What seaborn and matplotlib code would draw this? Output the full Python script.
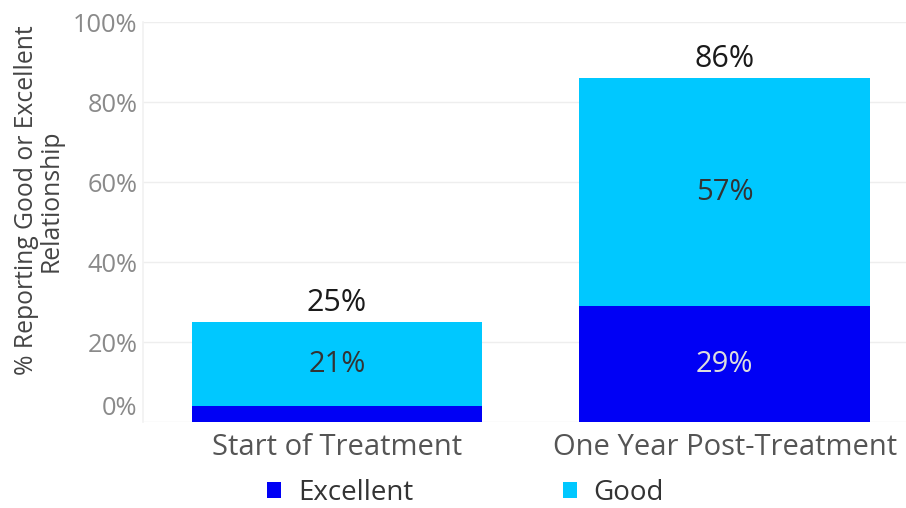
import matplotlib
matplotlib.use("Agg")
import matplotlib.pyplot as plt
import matplotlib.transforms as mtransforms
from matplotlib.patches import Patch
import seaborn as sns
import pandas as pd

categories = ["Start of Treatment", "One Year Post-Treatment"]
excellent = [4, 29]
good = [21, 57]
totals = [e + g for e, g in zip(excellent, good)]
yticks = [0, 20, 40, 60, 80, 100]
ytick_labels = ["0%", "20%", "40%", "60%", "80%", "100%"]

sns.set_theme(style="white")
plt.rcParams["font.family"] = ["Open Sans", "DejaVu Sans"]

c_exc = "#0000F5"
c_good = "#00C8FF"

df = pd.DataFrame({"cat": categories, "excellent": excellent, "good": good, "total": totals})

fig = plt.figure(figsize=(9.06, 5.08), dpi=100)
ax = fig.add_axes([0.158, 0.169, 0.842, 0.787])

sns.barplot(data=df, x="cat", y="total", color=c_good, saturation=1, width=0.75, linewidth=0, ax=ax)
sns.barplot(data=df, x="cat", y="excellent", color=c_exc, saturation=1, width=0.75, linewidth=0, ax=ax)

ax.set_xlim(-0.5, 1.468)
ax.set_ylim(0, 100)
ax.set_yticks(yticks)
ax.set_yticklabels(ytick_labels, color="#8a8a8a", fontsize=18.3)
ax.tick_params(axis="y", length=0, pad=4)
ax.tick_params(axis="x", length=0, pad=8, labelsize=21, labelcolor="#555555")
for y in yticks[1:]:
    ax.axhline(y, color="#eeeeee", lw=1, zorder=0)
for s in ["top", "right", "bottom"]:
    ax.spines[s].set_visible(False)
ax.spines["left"].set_color("#f2f2f2")
ax.axhline(0, color="#eeeeee", lw=1, zorder=0)

# shift 0% label up
lbl0 = ax.get_yticklabels()[0]
lbl0.set_transform(lbl0.get_transform() + mtransforms.ScaledTranslation(0, 17 / 100, fig.dpi_scale_trans))

ax.set_xlabel("")
ax.set_ylabel("% Reporting Good or Excellent\nRelationship", fontsize=17.8, color="#444444",
              linespacing=1.0)
ax.yaxis.set_label_coords(-0.104, 0.555)

for i in range(len(categories)):
    ax.text(i, totals[i] + 1.0, f"{totals[i]}%", ha="center", va="bottom", fontsize=22, color="#1a1a1a")
    ax.text(i, excellent[i] + good[i] / 2, f"{good[i]}%", ha="center", va="center", fontsize=21, color="#333333")
    if excellent[i] >= 10:
        ax.text(i, excellent[i] / 2, f"{excellent[i]}%", ha="center", va="center", fontsize=21, color="#dddddd")

handles = [Patch(facecolor=c_exc, edgecolor="none"), Patch(facecolor=c_good, edgecolor="none")]
fig.legend(handles, ["Excellent", "Good"], loc="center", bbox_to_anchor=(0.514, 0.03), ncol=2,
           frameon=False, fontsize=20, handlelength=0.5, handleheight=0.5, handletextpad=0.6,
           columnspacing=5.4, labelcolor="#333333", borderpad=0)

fig.savefig("out.png", dpi=100)
